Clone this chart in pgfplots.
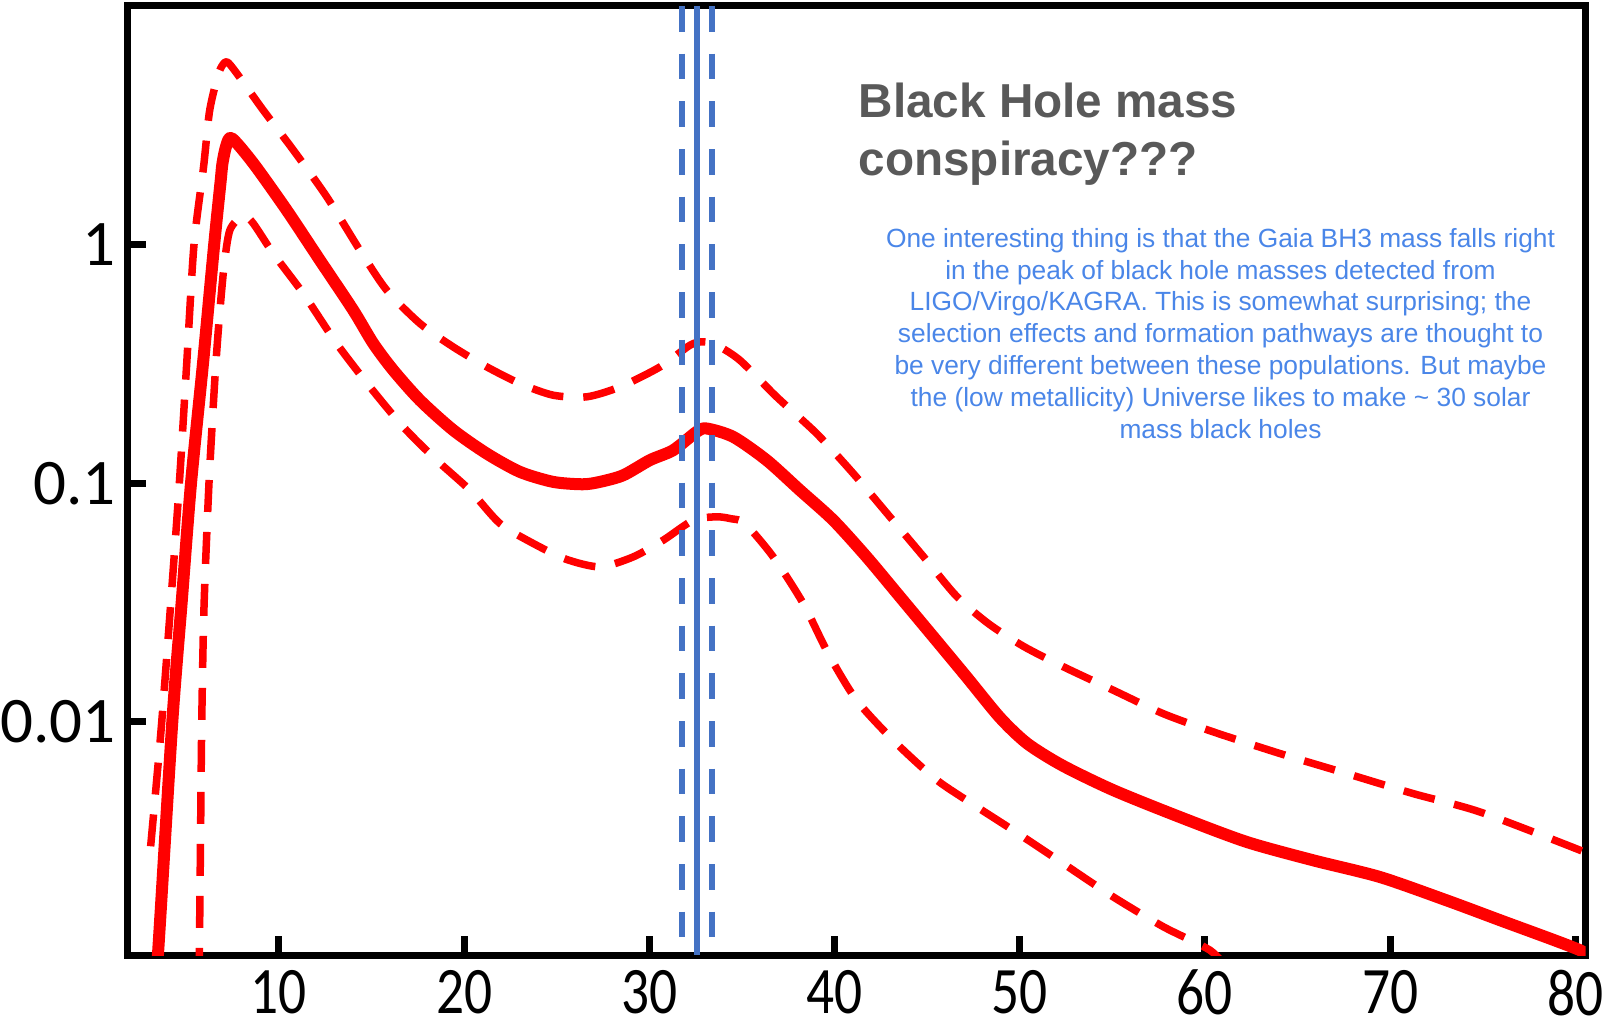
\documentclass[border=0pt]{standalone}
\usepackage{fontspec}
\setmainfont{Liberation Sans}
\newfontfamily\carlito{Carlito}
\usepackage{graphicx}
\usepackage{pgfplots}
\pgfplotsset{compat=1.18}

\definecolor{massred}{HTML}{FF0000}
\definecolor{gaiablue}{HTML}{4472C4}
\definecolor{notetext}{HTML}{4A86E8}
\definecolor{titlegray}{HTML}{595959}

% x tick numbers are set a little taller than wide
\newcommand\tallnum[1]{\scalebox{1}[1.2]{#1}}

\begin{document}
\begin{tikzpicture}
\begin{axis}[
  name=ax,
  scale only axis,
  width=437.4pt, height=284.7pt,
  xmin=1.82, xmax=80.55,
  ymode=log, ymin=0.00105, ymax=10.04,
  axis line style={line width=2.1pt, black},
  tick align=inside, tick pos=left,
  major tick length=5.7pt,
  tick style={line width=2.1pt, black},
  yminorticks=false, xminorticks=false,
  xtick={10,20,30,40,50,60,70,80},
  xticklabels={\tallnum{10},\tallnum{20},\tallnum{30},\tallnum{40},\tallnum{50},\tallnum{60},\tallnum{70},\tallnum{80}},
  ytick={0.01,0.1,1},
  yticklabels={0.01,0.1,1},
  xticklabel style={font=\carlito\fontsize{16.6}{17}\selectfont, inner sep=0pt, yshift=-4.3pt},
  yticklabel style={font=\carlito\fontsize{19.5}{19.5}\selectfont, inner sep=0pt, xshift=-3.3pt},
  no markers,
]
% upper bound of the merger mass distribution
\addplot[massred, line width=2.25pt, dash pattern=on 9.6pt off 6pt, smooth, tension=0.45, line join=round] coordinates {
  (3.07,0.003) (3.35,0.0052) (3.67,0.01) (4.15,0.031) (4.62,0.1) (5.02,0.32)
  (5.41,1.0) (5.93,2.13) (6.24,3.59) (6.6,4.8) (6.85,5.5) (7.18,5.86) (7.72,5.24)
  (9.15,3.67) (10.77,2.50) (12.58,1.59) (14.37,0.949) (15.82,0.645) (17.61,0.468)
  (19.41,0.373) (21.21,0.308) (23.01,0.262) (24.81,0.234) (26.62,0.2304)
  (28.42,0.2537) (30.58,0.3077) (32.2,0.3796) (32.91,0.3918) (33.63,0.3796)
  (34.89,0.328) (36.87,0.2304) (39.03,0.1617) (41.01,0.1099) (42.99,0.0723)
  (44.97,0.0475) (46.6,0.0335) (48.3,0.0258) (50.2,0.0207) (52.35,0.017)
  (55.05,0.01355) (57.75,0.0108) (60.45,0.00906) (64.05,0.00735) (67.65,0.00606)
  (71.25,0.00499) (74.85,0.00418) (80.25,0.00289) (81,0.0027)
};
% lower bound
\addplot[massred, line width=2.25pt, dash pattern=on 9.6pt off 6pt, smooth, tension=0.45, line join=round] coordinates {
  (5.65,0.0005) (5.70,0.00105) (5.76,0.003) (5.83,0.01) (5.95,0.03) (6.22,0.1)
  (6.54,0.275) (6.76,0.475) (7.03,0.809) (7.35,1.153) (8.07,1.33) (8.61,1.23)
  (9.69,0.92) (11.31,0.625) (13.11,0.386) (14.91,0.2537) (16.71,0.1724)
  (18.51,0.125) (20.31,0.0935) (21.93,0.0678) (23.73,0.0559) (25.5,0.048)
  (27.33,0.0446) (29.13,0.0491) (30.75,0.0577) (32.37,0.070) (33.63,0.0723)
  (34.4,0.071) (35.16,0.0678) (36.69,0.0491) (38.31,0.0313) (39.66,0.0193)
  (41.19,0.0123) (43.26,0.00822) (45.42,0.00577) (47.13,0.00468) (49.65,0.0035)
  (52.35,0.00254) (55.05,0.00184) (57.75,0.00138) (60.27,0.0011) (61.2,0.00092)
};
% median distribution
\addplot[massred, line width=3.6pt, smooth, tension=0.45, line join=round] coordinates {
  (3.2,0.0006) (3.48,0.0011) (4.24,0.01) (4.75,0.032) (5.25,0.1) (5.9,0.32)
  (6.5,1.0) (6.85,1.85) (6.95,2.2) (7.15,2.6) (7.45,2.8) (8.61,2.20) (10.41,1.40)
  (12.21,0.862) (14.01,0.532) (15.09,0.386) (16.17,0.298) (17.61,0.223)
  (19.41,0.167) (21.21,0.1333) (23.01,0.1116) (24.81,0.1013) (26.4,0.099)
  (27.33,0.1013) (28.59,0.108) (30.03,0.125) (31.29,0.1376) (32.55,0.1642)
  (33.09,0.1697) (34.53,0.1565) (36.33,0.125) (38.13,0.0935) (39.93,0.070)
  (41.73,0.0491) (43.53,0.0334) (45.33,0.0227) (47.13,0.0154) (48.93,0.0104)
  (50.4,0.0081) (52.3,0.00655) (55.05,0.00516) (58.65,0.00398) (62.25,0.00313)
  (65.85,0.00262) (69.45,0.00223) (73.05,0.00178) (75.93,0.00147) (80.25,0.0011)
  (81,0.00098)
};
% Gaia BH3 mass and its uncertainty
\addplot[gaiablue, line width=1.8pt, dash pattern=on 7.7pt off 6.6pt] coordinates {(31.74,10.04) (31.74,0.00105)};
\addplot[gaiablue, line width=1.8pt, dash pattern=on 7.7pt off 6.6pt] coordinates {(33.36,10.04) (33.36,0.00105)};
\addplot[gaiablue, line width=1.8pt] coordinates {(32.57,10.04) (32.57,0.00105)};
\end{axis}

\node[anchor=north west, inner sep=0pt, align=left, text=titlegray,
      font=\bfseries\fontsize{14.3}{17.5}\selectfont]
  at ([xshift=219.15pt, yshift=-22.8pt]ax.north west) {Black Hole mass\\conspiracy???};

\node[anchor=north, inner sep=0pt, align=center, text=notetext,
      font=\fontsize{7.9}{9.54}\selectfont]
  at ([xshift=327.9pt, yshift=-66.45pt]ax.north west)
  {One interesting thing is that the Gaia BH3 mass falls right\\
   in the peak of black hole masses detected from\\
   LIGO/Virgo/KAGRA. This is somewhat surprising; the\\
   selection effects and formation pathways are thought to\\
   be very different between these populations. But maybe\\
   the (low metallicity) Universe likes to make \textasciitilde{} 30 solar\\
   mass black holes};

\pgfresetboundingbox
\path ([xshift=-38.25pt, yshift=-21.6pt]ax.south west) rectangle ([xshift=7.35pt, yshift=1.8pt]ax.north east);
\end{tikzpicture}
\end{document}
